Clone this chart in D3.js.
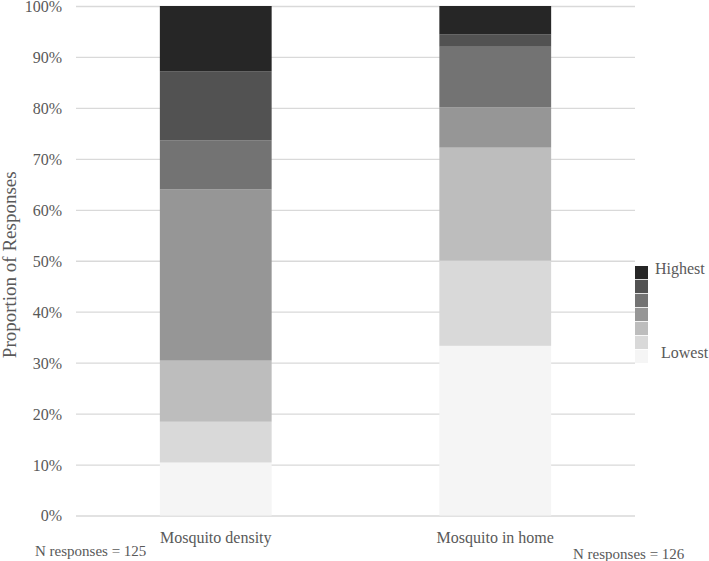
<!DOCTYPE html>
<html>
<head>
<meta charset="utf-8">
<script src="https://cdn.jsdelivr.net/npm/d3@7/dist/d3.min.js"></script>
<style>
  body { margin: 0; background: #fff; }
</style>
</head>
<body>
<svg id="chart" width="709" height="561"></svg>
<script>
"use strict";

// data (percent of responses, lowest -> highest)
var categories = ["Mosquito density", "Mosquito in home"];
var levels = ["l1", "l2", "l3", "l4", "l5", "l6", "l7"];
var densityShares = [10.4, 8.0, 12.0, 33.6, 9.6, 13.6, 12.8];
var homeShares = [33.3, 16.7, 22.2, 7.9, 11.9, 2.4, 5.6];
var nResponses = [125, 126];
var yTicks = [0, 10, 20, 30, 40, 50, 60, 70, 80, 90, 100];
var greys = ["#f5f5f5", "#d9d9d9", "#bdbdbd", "#969696", "#737373", "#525252", "#262626"];

var serif = "'Liberation Serif', 'DejaVu Serif', serif";
var ink = "#595959";

var svg = d3.select("#chart")
	.attr("font-family", serif);

var rows = categories.map(function(c, i){
	var shares = i === 0 ? densityShares : homeShares;
	var r = { cat: c };
	levels.forEach(function(k, j){ r[k] = shares[j]; });
	return r;
});

var x = d3.scaleBand()
	.domain(categories)
	.range([76, 635])
	.paddingInner(0.6)
	.paddingOuter(0.3);

var y = d3.scaleLinear()
	.domain([0, 100])
	.range([515.5, 6]);

var color = d3.scaleOrdinal().domain(levels).range(greys);

// gridlines
svg.append("g")
	.attr("transform", "translate(76,0)")
	.call(d3.axisLeft(y).tickValues(yTicks).tickSize(-(635 - 76)).tickFormat(""))
	.call(function(g){
		g.select(".domain").remove();
		g.selectAll("line").attr("stroke", "#d9d9d9").attr("stroke-width", 1.3);
	});

// tick labels
svg.append("g")
	.attr("transform", "translate(62,0)")
	.call(d3.axisLeft(y).tickValues(yTicks).tickSize(0).tickPadding(0)
		.tickFormat(function(d){ return d + "%"; }))
	.call(function(g){
		g.attr("font-family", serif).attr("font-size", 16);
		g.select(".domain").remove();
		g.selectAll("text")
			.attr("fill", ink)
			.attr("dy", "0.34em");
	});

// stacked bars
var stacked = d3.stack().keys(levels)(rows);

svg.append("g").selectAll("g")
	.data(stacked)
	.enter().append("g")
	.attr("fill", function(d){ return color(d.key); })
	.selectAll("rect")
	.data(function(d){ return d; })
	.enter().append("rect")
	.attr("x", function(d){ return x(d.data.cat); })
	.attr("width", x.bandwidth())
	.attr("y", function(d){ return y(d[1]); })
	.attr("height", function(d){ return y(d[0]) - y(d[1]); });

// category labels
svg.append("g").selectAll("text")
	.data(categories)
	.enter().append("text")
	.attr("x", function(d){ return x(d) + x.bandwidth() / 2; })
	.attr("y", 543)
	.attr("text-anchor", "middle")
	.attr("font-size", 16)
	.attr("fill", ink)
	.text(function(d){ return d; });

// N responses notes
var nPos = [[35, 556], [573, 559]];
svg.append("g").selectAll("text")
	.data(nResponses)
	.enter().append("text")
	.attr("x", function(d, i){ return nPos[i][0]; })
	.attr("y", function(d, i){ return nPos[i][1]; })
	.attr("font-size", 15)
	.attr("fill", ink)
	.text(function(d){ return "N responses = " + d; });

// y axis title
svg.append("text")
	.attr("transform", "translate(16," + ((y(0) + y(100)) / 2 + 4) + ") rotate(-90)")
	.attr("text-anchor", "middle")
	.attr("font-size", 19)
	.attr("fill", ink)
	.text("Proportion of Responses");

// legend
var legY = d3.scaleBand().domain(levels.slice().reverse()).range([266, 363]).paddingInner(0.06);
var legend = svg.append("g");
legend.selectAll("rect")
	.data(levels)
	.enter().append("rect")
	.attr("x", 635)
	.attr("y", function(d){ return legY(d); })
	.attr("width", 13)
	.attr("height", legY.bandwidth())
	.attr("fill", function(d){ return color(d); });
legend.append("text").attr("x", 655).attr("y", 274).attr("font-size", 16).attr("fill", ink).text("Highest");
legend.append("text").attr("x", 661).attr("y", 358).attr("font-size", 16).attr("fill", ink).text("Lowest");
</script>
</body>
</html>
